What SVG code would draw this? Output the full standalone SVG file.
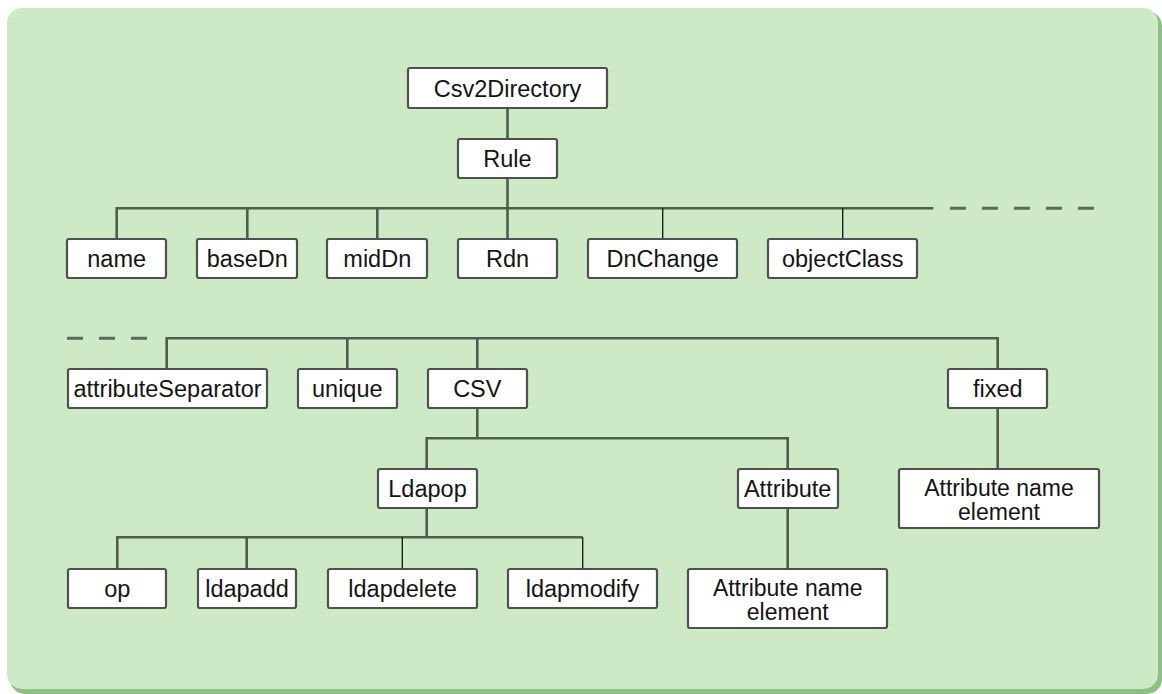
<svg xmlns="http://www.w3.org/2000/svg" width="1162" height="694" viewBox="0 0 1162 694">
  <style>
    .box { fill: #ffffff; stroke: #4e524e; stroke-width: 2.2; }
    .lbl { font-family: "Liberation Sans", Arial, Helvetica, sans-serif; font-size: 23.5px; fill: #141414; text-anchor: middle; }
    .lbl2 { font-family: "Liberation Sans", Arial, Helvetica, sans-serif; font-size: 23px; fill: #141414; text-anchor: middle; }
    .link { fill: none; stroke: #4f5c4f; stroke-width: 2.6; stroke-linejoin: miter; }
    .thin { fill: none; stroke: #111111; stroke-width: 1.3; }
    .dash { fill: none; stroke: #5a6b5a; stroke-width: 3; stroke-dasharray: 16 16; }
  </style>

  <!-- backdrop panel with darker lower/right edge -->
  <rect x="10" y="11" width="1152" height="683" rx="15" fill="#8cc185"/>
  <rect x="7" y="8" width="1151" height="681" rx="15" fill="#cde9c6"/>

  <!-- connectors -->
  <g id="connectors">
    <!-- Csv2Directory to Rule, Rule to its bar -->
    <path class="link" d="M507.5 109 V238"/>
    <!-- first child bar -->
    <path class="link" d="M116.7 238 V208.3 H933.3"/>
    <path class="dash" d="M950 208.3 H1096"/>
    <path class="link" d="M247.3 208.3 V238"/>
    <path class="link" d="M377.3 208.3 V238"/>
    <path class="thin" d="M662.7 208.3 V238"/>
    <path class="thin" d="M842.7 208.3 V238"/>

    <!-- continuation bar -->
    <path class="dash" d="M67 338.3 H150"/>
    <path class="link" d="M166.7 368 V338.3 H997.7 V368"/>
    <path class="link" d="M347.3 338.3 V368"/>
    <path class="link" d="M477.3 338.3 V368"/>

    <!-- CSV children -->
    <path class="link" d="M477.3 409 V438.3"/>
    <path class="link" d="M426.7 468 V438.3 H787.7 V468"/>

    <!-- Ldapop children -->
    <path class="link" d="M426.7 509 V537.3"/>
    <path class="link" d="M117.3 568 V537.3 H582.7"/>
    <path class="link" d="M246.7 537.3 V568"/>
    <path class="thin" d="M402.3 537.3 V568"/>
    <path class="thin" d="M582.7 537.3 V568"/>

    <!-- Attribute and fixed leaves -->
    <path class="link" d="M787.7 509 V568"/>
    <path class="link" d="M997.7 409 V468"/>
  </g>

  <g id="csv2directory"><rect class="box" x="408" y="68" width="199" height="40" rx="2"/><text class="lbl" x="507.5" y="96.5">Csv2Directory</text></g>
  <g id="rule"><rect class="box" x="458" y="139" width="99" height="39" rx="2"/><text class="lbl" x="507.5" y="167">Rule</text></g>

  <g id="name"><rect class="box" x="67" y="239" width="99" height="39" rx="2"/><text class="lbl" x="116.7" y="266.5">name</text></g>
  <g id="baseDn"><rect class="box" x="197" y="239" width="100" height="39" rx="2"/><text class="lbl" x="247.3" y="266.5">baseDn</text></g>
  <g id="midDn"><rect class="box" x="327" y="239" width="100" height="39" rx="2"/><text class="lbl" x="377.3" y="266.5">midDn</text></g>
  <g id="rdn"><rect class="box" x="458" y="239" width="99" height="39" rx="2"/><text class="lbl" x="507.5" y="266.5">Rdn</text></g>
  <g id="dnChange"><rect class="box" x="588" y="239" width="149" height="39" rx="2"/><text class="lbl" x="662.7" y="266.5">DnChange</text></g>
  <g id="objectClass"><rect class="box" x="768" y="239" width="149" height="39" rx="2"/><text class="lbl" x="842.7" y="266.5">objectClass</text></g>

  <g id="attributeSeparator"><rect class="box" x="68" y="369" width="199" height="39" rx="2"/><text class="lbl" x="167.5" y="396.5">attributeSeparator</text></g>
  <g id="unique"><rect class="box" x="298" y="369" width="99" height="39" rx="2"/><text class="lbl" x="347.3" y="396.5">unique</text></g>
  <g id="csv"><rect class="box" x="428" y="369" width="99" height="39" rx="2"/><text class="lbl" x="477.3" y="396.5">CSV</text></g>
  <g id="fixed"><rect class="box" x="948" y="369" width="99" height="39" rx="2"/><text class="lbl" x="997.7" y="396.5">fixed</text></g>

  <g id="ldapop"><rect class="box" x="378" y="469" width="99" height="39" rx="2"/><text class="lbl" x="427.5" y="496.5">Ldapop</text></g>
  <g id="attribute"><rect class="box" x="738" y="469" width="100" height="39" rx="2"/><text class="lbl" x="787.7" y="496.5">Attribute</text></g>
  <g id="fixedAttributeName"><rect class="box" x="899" y="469" width="200" height="59" rx="2"/><text class="lbl2" x="999" y="495.5">Attribute name</text><text class="lbl2" x="999" y="520">element</text></g>

  <g id="op"><rect class="box" x="68" y="569" width="98" height="39" rx="2"/><text class="lbl" x="117.3" y="596.5">op</text></g>
  <g id="ldapadd"><rect class="box" x="198" y="569" width="98" height="39" rx="2"/><text class="lbl" x="247" y="596.5">ldapadd</text></g>
  <g id="ldapdelete"><rect class="box" x="328" y="569" width="149" height="39" rx="2"/><text class="lbl" x="402.5" y="596.5">ldapdelete</text></g>
  <g id="ldapmodify"><rect class="box" x="508" y="569" width="149" height="39" rx="2"/><text class="lbl" x="582.5" y="596.5">ldapmodify</text></g>
  <g id="attributeName"><rect class="box" x="688" y="569" width="199" height="59" rx="2"/><text class="lbl2" x="787.7" y="595.5">Attribute name</text><text class="lbl2" x="787.7" y="620">element</text></g>
</svg>
